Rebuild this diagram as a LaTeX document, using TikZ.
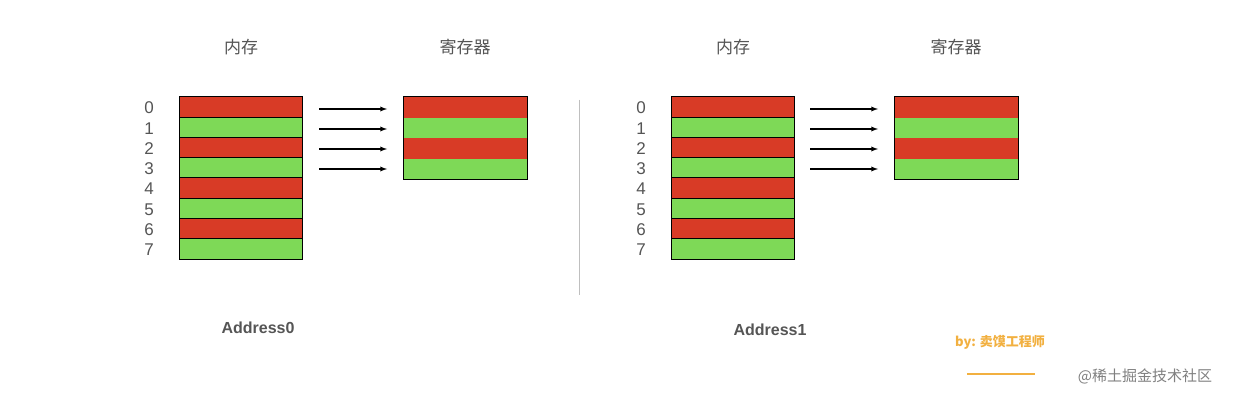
\documentclass[tikz,border=0pt]{standalone}
\usepackage{fontspec}
\setmainfont{Liberation Sans}
\newfontfamily\cjk{Noto Sans CJK SC}
\definecolor{cred}{HTML}{D83B26}
\definecolor{cgreen}{HTML}{7ED957}
\definecolor{corange}{HTML}{F2B040}
\definecolor{ctext}{HTML}{555555}
\begin{document}
\begin{tikzpicture}[x=1pt,y=-1pt,
  cell/.style={draw=black,line width=1pt},
  lab/.style={font=\fontsize{17}{17}\selectfont,text=ctext},
  ttl/.style={font=\cjk\fontsize{17}{17}\selectfont,text=ctext},
  addr/.style={font=\bfseries\fontsize{16}{16}\selectfont,text=ctext},
  arr/.style={-latex,line width=1.3pt}]
\useasboundingbox[fill=white] (0,0) rectangle (1240,401);
\foreach \side/\mx/\rx/\ax/\dx/\addx/\addy/\nm in {L/179/403/319/149/258/328/0,R/671/894/810/641/770/330/1}{
  \node[ttl] (mt\side) at (\mx+62,47) {内存};
  \node[ttl] (rt\side) at (\rx+62,47) {寄存器};
  \foreach \i in {0,...,7}{
    \pgfmathsetmacro{\ya}{97+\i*20.25}
    \pgfmathsetmacro{\yb}{97+(\i+1)*20.25}
    \pgfmathtruncatemacro{\odd}{mod(\i,2)}
    \ifnum\odd=0 \def\cc{cred}\else\def\cc{cgreen}\fi
    \fill[\cc] (\mx,\ya) rectangle (\mx+123,\yb);
    \draw[line width=1pt] (\mx,\ya) -- (\mx+123,\ya);
    \node[lab] (d\side\i) at (\dx,\ya+11) {\i};
  }
  \draw[cell] (\mx,97) rectangle (\mx+123,259);
  \foreach \i in {0,...,3}{
    \pgfmathsetmacro{\ya}{97+\i*20.75}
    \pgfmathsetmacro{\yb}{97+(\i+1)*20.75}
    \pgfmathtruncatemacro{\odd}{mod(\i,2)}
    \ifnum\odd=0 \def\cc{cred}\else\def\cc{cgreen}\fi
    \fill[\cc] (\rx,\ya) rectangle (\rx+124,\yb);
    \coordinate (as\side\i) at (\ax,109+\i*20);
    \coordinate (ae\side\i) at (\ax+68,109+\i*20);
    \draw[arr] (as\side\i) -- (ae\side\i);
  }
  \draw[cell] (\rx,97) rectangle (\rx+124,180);
  \node[addr] (ad\side) at (\addx,\addy) {Address\nm};
}
\coordinate (v1) at (579,100); \coordinate (v2) at (579,295);
\draw[gray!50,line width=0.8pt] (v1) -- (v2);
\node[font=\cjk\bfseries\fontsize{13}{13}\selectfont,text=corange] (by) at (1000,342) {by: 卖馍工程师};
\coordinate (o1) at (967,374); \coordinate (o2) at (1035,374);
\draw[corange,line width=1.2pt] (o1) -- (o2);
\node[font=\cjk\fontsize{15}{15}\selectfont,text=gray] (wm) at (1145,376) {@稀土掘金技术社区};
\end{tikzpicture}
\end{document}
